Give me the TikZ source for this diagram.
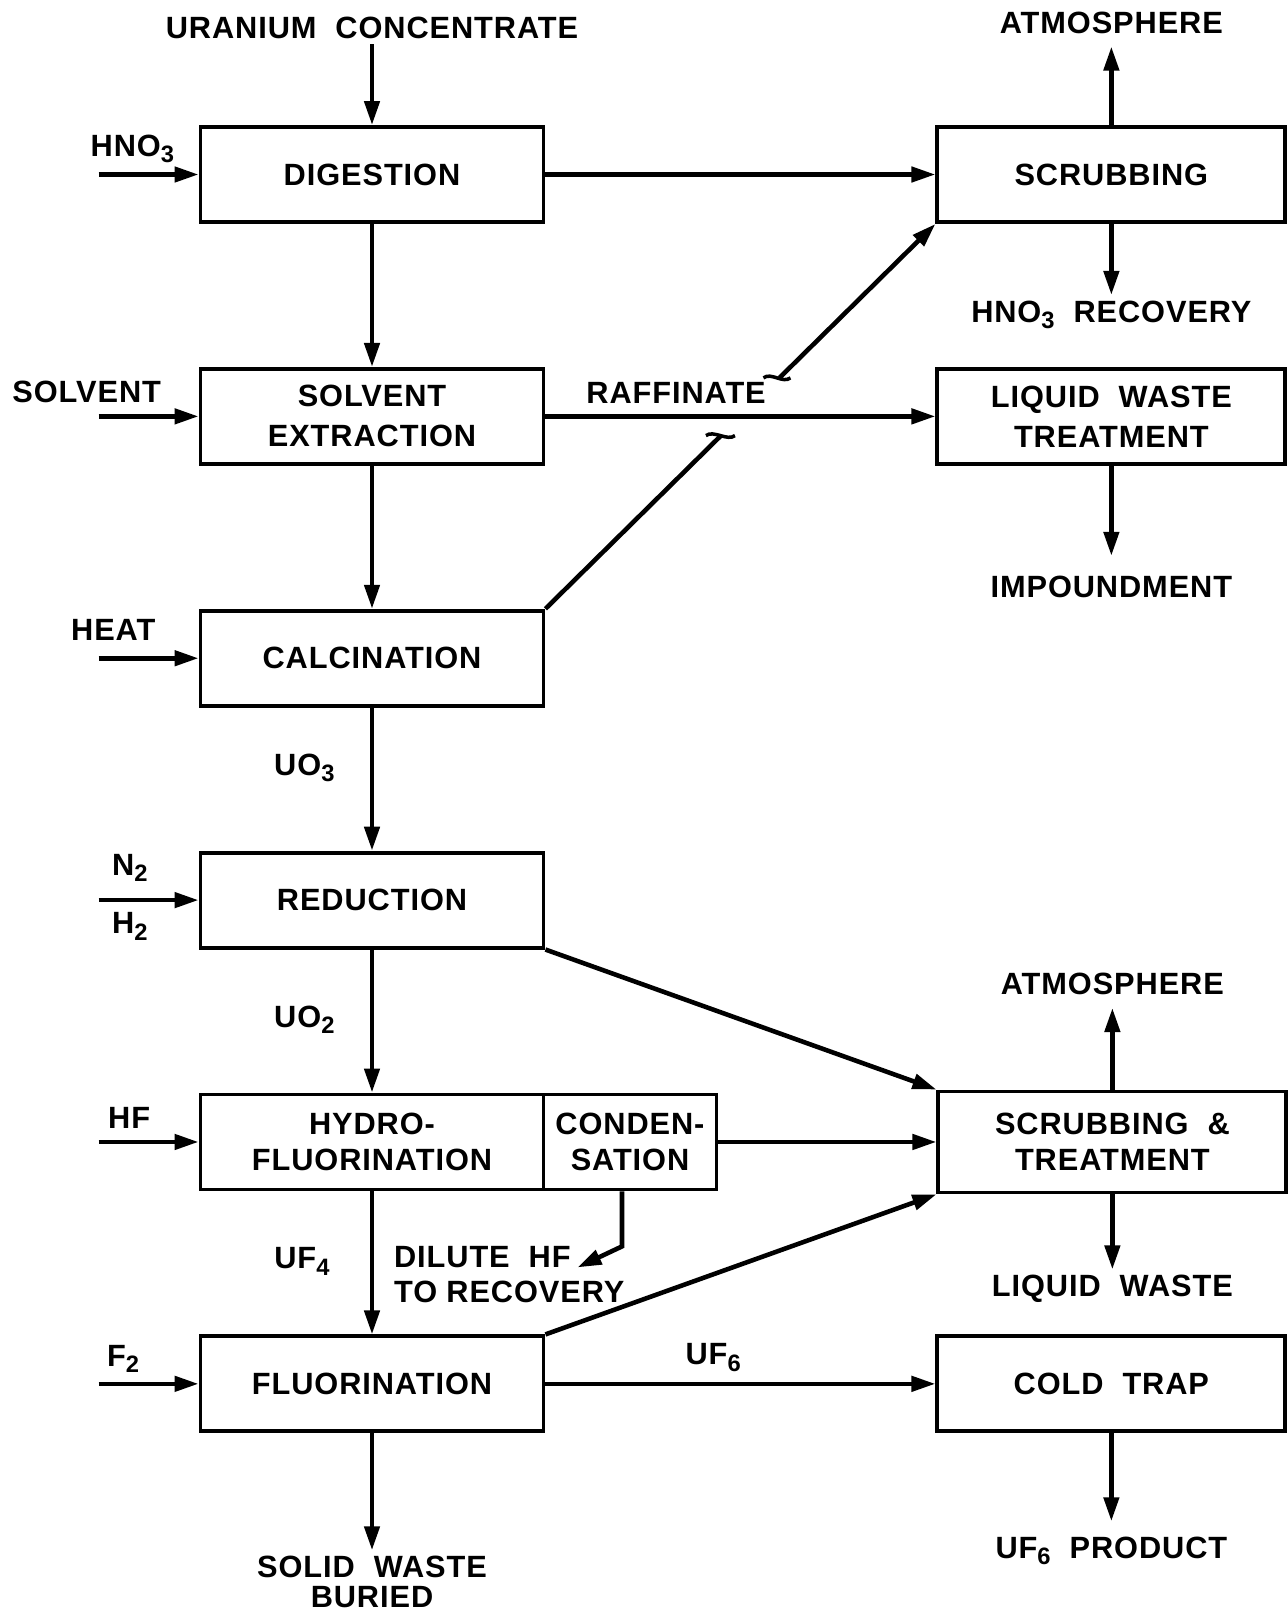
\documentclass[tikz,border=0pt]{standalone}
\usepackage{fontspec}
\newfontfamily\flowfont{Liberation Sans}[LetterSpace=3,WordSpace=2]
\usetikzlibrary{arrows.meta,positioning,calc}
\newcommand{\lsub}[1]{\raisebox{-3.5pt}{\fontsize{13.5pt}{13.5pt}\selectfont #1}}

\begin{document}
\begin{tikzpicture}[
  font=\flowfont\bfseries\fontsize{17.5pt}{22.8pt}\selectfont,
  proc/.style={draw,line width=2.2pt,minimum width=6.86cm,
    minimum height=1.9cm,align=center,inner sep=0pt},
  sink/.style={proc,minimum width=6.96cm},
  lbl/.style={inner sep=3pt,align=center},
  arr/.style={-{Triangle[length=0.48cm,width=0.3cm]},line width=2.6pt},
  wire/.style={line width=2.6pt},
  hop/.style={line width=2pt},
]
\useasboundingbox (0,0) rectangle (25.74,-32.24);
% left column
\node[proc] (dig) at (7.44,-3.49) {DIGESTION};
\node[proc, below=2.86cm of dig] (sx) {SOLVENT\\EXTRACTION};
\node[proc, below=2.86cm of sx]  (cal) {CALCINATION};
\node[proc, below=2.86cm of cal] (red) {REDUCTION};
\node[proc, below=2.86cm of red] (hf) {HYDRO-\\[-0.08cm]FLUORINATION};
\node[proc, right=-2.2pt of hf, minimum width=3.46cm] (cnd) {CONDEN-\\[-0.08cm]SATION};
\node[proc, below=2.86cm of hf]  (fl) {FLUORINATION};
% right column
\node[sink, right=7.8cm of dig]  (scr) {SCRUBBING};
\node[sink, right=7.8cm of sx]   (lwt) {LIQUID WASTE\\TREATMENT};
\node[sink, right=4.36cm of cnd, minimum height=2.02cm] (st) {SCRUBBING \&\\[-0.08cm]TREATMENT};
\node[sink, right=7.8cm of fl]   (ct) {COLD TRAP};
% sources and sinks
\node[lbl, above=1.62cm of dig]  (conc) {URANIUM CONCENTRATE};
\node[lbl, above=1.72cm of scr]  (atmA) {ATMOSPHERE};
\node[lbl, below=1.42cm of scr]  (hrec) {HNO\lsub{3} RECOVERY};
\node[lbl, below=2.1cm of lwt]   (imp) {IMPOUNDMENT};
\node[lbl, above=1.78cm of st]   (atmB) {ATMOSPHERE};
\node[lbl, below=1.5cm of st]    (lwaste) {LIQUID WASTE};
\node[lbl, below=1.96cm of ct]   (prod) {UF\lsub{6} PRODUCT};
\node[lbl, below=2.34cm of fl]   (solid) {SOLID WASTE\\[-0.2cm]BURIED};
% feeds
\coordinate[left=2cm of dig] (hno3in);
\coordinate[left=2cm of sx]  (solvin);
\coordinate[left=2cm of cal] (heatin);
\coordinate[left=2cm of red] (gasin);
\coordinate[left=2cm of hf]  (hfin);
\coordinate[left=2cm of fl]  (f2in);
\node[lbl, above right=0.12cm and -0.27cm of hno3in] (hno3) {HNO\lsub{3}};
\node[lbl, above left=0.16cm and -1.36cm of solvin]  (solv) {SOLVENT};
\node[lbl, above right=0.24cm and -0.66cm of heatin] (heat) {HEAT};
\node[lbl, above right=0.26cm and 0.16cm of gasin]   (nitro) {N\lsub{2}};
\node[lbl, below right=0.14cm and 0.16cm of gasin]   (hydro) {H\lsub{2}};
\node[lbl, above right=0.16cm and 0.08cm of hfin]    (hfl) {HF};
\node[lbl, above right=0.12cm and 0.06cm of f2in]    (f2l) {F\lsub{2}};
\node[lbl, align=left, below right=0.98cm and 0.33cm of hf.south] (dhf) {DILUTE HF\\[-0.1cm]TO\hspace{0.3em}RECOVERY};
\coordinate[below left=1.52cm and 1.05cm of cnd.south] (dhftip);
% main line
\draw[arr] (conc) -- (dig);
\draw[arr] (dig) -- (sx);
\draw[arr] (sx) -- (cal);
\draw[arr] (cal) -- (red) node[lbl, pos=0.42, left=0.6cm] (uo3) {UO\lsub{3}};
\draw[arr] (red) -- (hf) node[lbl, pos=0.49, left=0.6cm] (uo2) {UO\lsub{2}};
\draw[arr] (hf) -- (fl) node[lbl, pos=0.49, left=0.7cm] (uf4) {UF\lsub{4}};
\draw[arr] (fl) -- (solid);
\draw[arr] (hno3in) -- (dig);
\draw[arr] (solvin) -- (sx);
\draw[arr] (heatin) -- (cal);
\draw[arr] (gasin) -- (red);
\draw[arr] (hfin) -- (hf);
\draw[arr] (f2in) -- (fl);
% off-gas and waste
\draw[arr] (dig) -- (scr);
\draw[arr] (sx) -- (lwt) node[lbl, pos=0.335, above=0.1cm] (raff) {RAFFINATE};
\path (cal.north east) -- (scr.south west) coordinate[pos=0.45] (gapa) coordinate[pos=0.6] (gapb);
\draw[wire] (cal.north east) -- (gapa);
\draw[arr] (gapb) -- (scr.south west);
\draw[hop] ([xshift=-0.3cm]gapa) .. controls +(0.15,0.12) and +(-0.15,-0.12) .. ([xshift=0.28cm]gapa);
\draw[hop] ([xshift=-0.32cm]gapb) .. controls +(0.15,0.12) and +(-0.15,-0.12) .. ([xshift=0.22cm]gapb);
\draw[arr] (red.south east) -- (st.north west);
\draw[arr] (cnd) -- (st);
\draw[arr] (fl.north east) -- (st.south west);
\draw[arr] ([xshift=-0.16cm]cnd.south) -- ++(0,-1.1) -- (dhftip);
\draw[arr] (fl) -- (ct) node[lbl, pos=0.43, above=0.1cm] (uf6) {UF\lsub{6}};
\draw[arr, shorten >=0.15cm] (scr) -- (atmA);
\draw[arr] (scr) -- (hrec);
\draw[arr, shorten >=0.3cm] (lwt) -- (imp);
\draw[arr, shorten >=0.15cm] (st) -- (atmB);
\draw[arr] (st) -- (lwaste);
\draw[arr, shorten >=0.2cm] (ct) -- (prod);
\end{tikzpicture}
\end{document}
